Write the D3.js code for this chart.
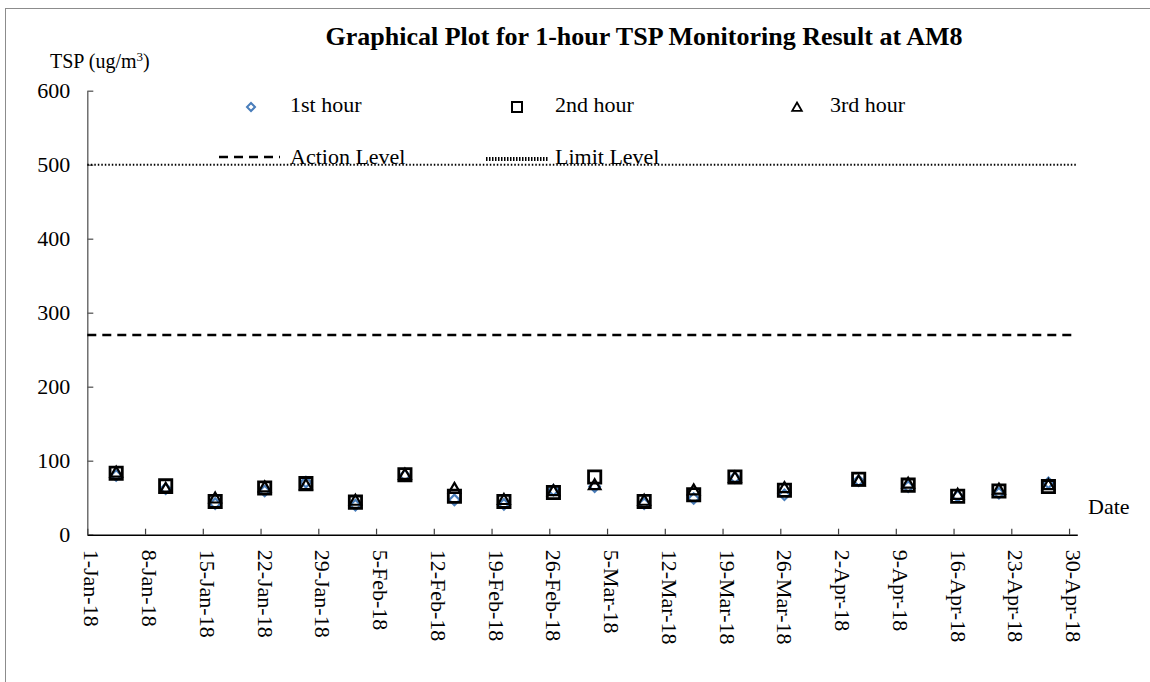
<!DOCTYPE html>
<html>
<head>
<meta charset="utf-8">
<script src="https://cdn.jsdelivr.net/npm/d3@7"></script>
<style>
  body { margin: 0; background: #fff; }
  text { font-family: "Liberation Serif", "Times New Roman", serif; fill: #000; }
</style>
</head>
<body>
<div id="chart"></div>
<script>
// monitoring dates and the three hourly readings (ug/m3)
var sampleDates = ["4-Jan-18", "10-Jan-18", "16-Jan-18", "22-Jan-18", "27-Jan-18",
                   "2-Feb-18", "8-Feb-18", "14-Feb-18", "20-Feb-18", "26-Feb-18",
                   "3-Mar-18", "9-Mar-18", "15-Mar-18", "20-Mar-18", "26-Mar-18",
                   "4-Apr-18", "10-Apr-18", "16-Apr-18", "21-Apr-18", "27-Apr-18"];
var hour1 = [80, 62, 42, 59, 71, 40, 80, 47, 41, 60, 65, 42, 49, 77, 54, 73, 65, 52, 56, 70];
var hour2 = [83, 66, 45, 63, 69, 44, 81, 52, 45, 57, 78, 45, 54, 78, 60, 75, 67, 52, 59, 65];
var hour3 = [83, 61, 48, 63, 66, 45, 80, 61, 46, 58, 66, 45, 59, 76, 62, 71, 68, 53, 60, 66];

var actionLevel = 270;
var limitLevel = 500;

// tick labels
var xTickLabels = ["1-Jan-18", "8-Jan-18", "15-Jan-18", "22-Jan-18", "29-Jan-18", "5-Feb-18",
                   "12-Feb-18", "19-Feb-18", "26-Feb-18", "5-Mar-18", "12-Mar-18", "19-Mar-18",
                   "26-Mar-18", "2-Apr-18", "9-Apr-18", "16-Apr-18", "23-Apr-18", "30-Apr-18"];
var yTicks = [0, 100, 200, 300, 400, 500, 600];
var xDomain = ["1-Jan-18", "1-May-18"];

var parseDate = d3.utcParse("%d-%b-%y");
var fmtDate = d3.utcFormat("%-d-%b-%y");
var serif = "Liberation Serif";

// set the dimensions and margins of the graph
var margin = {top: 90.7, left: 87.3},
    width = 990,
    height = 444;

var svg = d3.select("#chart")
  .append("svg")
    .attr("width", 1150)
    .attr("height", 682);

// outer frame
svg.append("rect")
    .attr("x", 5.5).attr("y", 8.5)
    .attr("width", 1300).attr("height", 800)
    .attr("fill", "none")
    .attr("stroke", "#8c8c8c")
    .attr("stroke-width", 1);

var chart = svg.append("g")
    .attr("transform", "translate(" + margin.left + "," + margin.top + ")");

var x = d3.scaleUtc()
  .domain(xDomain.map(parseDate))
  .range([0, width]);

var y = d3.scaleLinear()
  .domain([0, 600])
  .range([height, 0]);

// Y axis
var yAxis = chart.append("g")
  .call(d3.axisLeft(y).tickValues(yTicks).tickSizeInner(-6).tickSizeOuter(0).tickPadding(17));
yAxis.select(".domain").attr("stroke", "#595959").attr("stroke-width", 1.3);
yAxis.selectAll(".tick line").attr("stroke", "#595959").attr("stroke-width", 1.3);
yAxis.selectAll("text")
    .style("font-size", "22px")
    .style("font-family", serif)
    .attr("fill", "#000");

// X axis
var xAxis = chart.append("g")
  .attr("transform", "translate(0," + height + ")")
  .call(d3.axisBottom(x)
    .tickValues(xTickLabels.map(parseDate))
    .tickFormat(fmtDate)
    .tickSizeInner(-6).tickSizeOuter(0));
xAxis.select(".domain").attr("stroke", "#000").attr("stroke-width", 1.5);
xAxis.selectAll(".tick line").attr("stroke", "#404040").attr("stroke-width", 1.2);
xAxis.selectAll("text")
    .style("font-size", "22px")
    .style("font-family", serif)
    .attr("fill", "#000")
    .attr("text-anchor", "start")
    .attr("transform", "rotate(90)")
    .attr("x", 15)
    .attr("y", 3.5)
    .attr("dy", null);

// Action and Limit lines
chart.append("line")
    .attr("x1", 0).attr("x2", width)
    .attr("y1", y(actionLevel)).attr("y2", y(actionLevel))
    .attr("stroke", "#000")
    .attr("stroke-width", 2.5)
    .attr("stroke-dasharray", "9,6");

chart.append("line")
    .attr("x1", 0).attr("x2", width)
    .attr("y1", y(limitLevel)).attr("y2", y(limitLevel))
    .attr("stroke", "#000")
    .attr("stroke-width", 2)
    .attr("stroke-dasharray", "1.5,2");

// points sit in the middle of their day
function px(d) { return x(d3.utcHour.offset(parseDate(d), 12)); }

var diamond = d3.symbol().type(d3.symbolSquare).size(55);
var square = d3.symbol().type(d3.symbolSquare).size(150);
var triangle = d3.symbol().type(d3.symbolTriangle).size(58);

chart.append("g").selectAll("path")
  .data(sampleDates)
  .enter()
  .append("path")
    .attr("d", diamond)
    .attr("transform", function(d, i) { return "translate(" + px(d) + "," + y(hour1[i]) + ") rotate(45)"; })
    .attr("fill", "none")
    .attr("stroke", "#4a7ebb")
    .attr("stroke-width", 2.2);

chart.append("g").selectAll("path")
  .data(sampleDates)
  .enter()
  .append("path")
    .attr("d", square)
    .attr("transform", function(d, i) { return "translate(" + px(d) + "," + y(hour2[i]) + ")"; })
    .attr("fill", "none")
    .attr("stroke", "#000")
    .attr("stroke-width", 2.8);

chart.append("g").selectAll("path")
  .data(sampleDates)
  .enter()
  .append("path")
    .attr("d", triangle)
    .attr("transform", function(d, i) { return "translate(" + px(d) + "," + y(hour3[i]) + ")"; })
    .attr("fill", "none")
    .attr("stroke", "#000")
    .attr("stroke-width", 2.2);

// Title and axis titles
svg.append("text")
    .attr("x", 644).attr("y", 45)
    .attr("text-anchor", "middle")
    .style("font-family", serif)
    .style("font-size", "26px")
    .style("font-weight", "bold")
    .text("Graphical Plot for 1-hour TSP Monitoring Result at AM8");

var yTitle = svg.append("text")
    .attr("x", 50).attr("y", 68)
    .style("font-family", serif)
    .style("font-size", "20px");
yTitle.append("tspan").text("TSP (ug/m");
yTitle.append("tspan").attr("dy", -7).style("font-size", "13px").text("3");
yTitle.append("tspan").attr("dy", 7).text(")");

svg.append("text")
    .attr("x", 1088).attr("y", 514)
    .style("font-family", serif)
    .style("font-size", "22px")
    .text("Date");

// Legend
var legend = svg.append("g");
legend.append("path")
    .attr("d", d3.symbol().type(d3.symbolSquare).size(32))
    .attr("transform", "translate(251,107) rotate(45)")
    .attr("fill", "none").attr("stroke", "#4a7ebb").attr("stroke-width", 2);
legend.append("path")
    .attr("d", d3.symbol().type(d3.symbolSquare).size(100))
    .attr("transform", "translate(517,107)")
    .attr("fill", "none").attr("stroke", "#000").attr("stroke-width", 2);
legend.append("path")
    .attr("d", d3.symbol().type(d3.symbolTriangle).size(40))
    .attr("transform", "translate(797,108)")
    .attr("fill", "none").attr("stroke", "#000").attr("stroke-width", 1.8);

var legendText = [
  {label: "1st hour", x: 290, y: 112},
  {label: "2nd hour", x: 555, y: 112},
  {label: "3rd hour", x: 830, y: 112},
  {label: "Action Level", x: 290, y: 164},
  {label: "Limit Level", x: 555, y: 164}
];
legend.selectAll("text.lg")
  .data(legendText)
  .enter()
  .append("text")
    .attr("class", "lg")
    .attr("x", function(d) { return d.x; })
    .attr("y", function(d) { return d.y; })
    .style("font-family", serif)
    .style("font-size", "22px")
    .text(function(d) { return d.label; });

legend.append("line")
    .attr("x1", 219).attr("x2", 280).attr("y1", 157).attr("y2", 157)
    .attr("stroke", "#000").attr("stroke-width", 2.5)
    .attr("stroke-dasharray", "9,6");
legend.append("line")
    .attr("x1", 486).attr("x2", 548).attr("y1", 159).attr("y2", 159)
    .attr("stroke", "#000").attr("stroke-width", 4)
    .attr("stroke-dasharray", "1.5,1.5");
</script>
</body>
</html>
